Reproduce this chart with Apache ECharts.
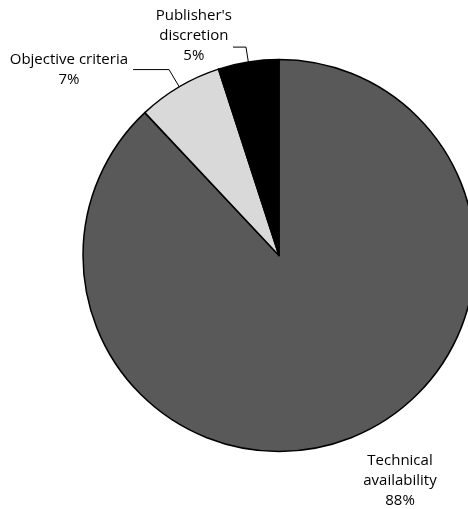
<!DOCTYPE html>
<html>
<head>
<meta charset="utf-8">
<style>
  html, body { margin: 0; padding: 0; background: #ffffff; }
  #chart { width: 468px; height: 509px; }
</style>
<script src="https://cdn.jsdelivr.net/npm/echarts@6/dist/echarts.min.js"></script>
</head>
<body>
<div id="chart"></div>
<script>
// Share of criteria (percent)
const categories = ['Technical availability', 'Objective criteria', "Publisher's discretion"];
const shares = [88, 7, 5];
// How each category name is broken over lines in its label
const labelText = [['Technical', 'availability'], ['Objective criteria'], ["Publisher's", 'discretion']];
const sliceColors = ['#595959', '#d9d9d9', '#000000'];

const FONT = '"Open Sans", "Noto Sans", sans-serif';

// Per-slice label placement tweaks
const labelTweaks = [
  { labelLine: { show: false } },
  { labelLine: { length: 20, length2: 36 }, label: { distanceToLabelLine: 5 } },
  { labelLine: { length: 15, length2: 13 }, label: { distanceToLabelLine: 1, padding: [0, 0, 23, 0] } }
];

const data = categories.map((name, i) => Object.assign({
  name: name,
  value: shares[i],
  itemStyle: { color: sliceColors[i] }
}, labelTweaks[i]));

const chart = echarts.init(document.getElementById('chart'), null, { renderer: 'canvas' });

chart.setOption({
  backgroundColor: '#ffffff',
  animation: false,
  series: [{
    type: 'pie',
    center: [279, 255.5],
    radius: 196,
    startAngle: 90,
    clockwise: true,
    avoidLabelOverlap: false,
    emphasis: { disabled: true },
    itemStyle: { borderColor: '#000000', borderWidth: 1.5 },
    label: {
      show: true,
      position: 'outside',
      color: '#000000',
      formatter: function (p) {
        return labelText[p.dataIndex].concat([p.value + '%'])
          .map(function (s) { return '{t|' + s + '}'; }).join('\n');
      },
      rich: {
        t: { align: 'center', fontFamily: FONT, fontSize: 15, lineHeight: 20, color: '#000000' }
      }
    },
    labelLine: {
      show: true,
      smooth: false,
      lineStyle: { color: '#000000', width: 1 }
    },
    // The large slice carries its label below the pie, without a leader line
    labelLayout: function (params) {
      if (params.dataIndex === 0) {
        return { x: 400, y: 481, align: 'center', verticalAlign: 'middle' };
      }
    },
    data: data
  }]
});
</script>
</body>
</html>
